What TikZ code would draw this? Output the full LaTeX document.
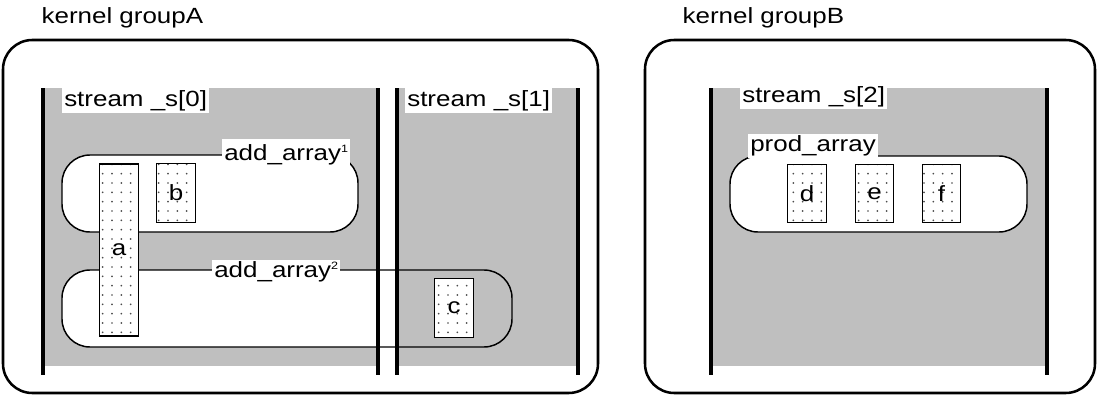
\documentclass[tikz,border=0pt]{standalone}
\usepackage{fontspec}
\setmainfont{Liberation Sans}[FakeStretch=1.18]
\usetikzlibrary{positioning, patterns.meta}

\newcommand{\sidx}[1]{\raisebox{0.75ex}{\fontsize{8}{8}\selectfont #1}}

\begin{document}
\begin{tikzpicture}[
		x=0.75pt, y=-0.75pt,
		every node/.style={font=\fontsize{16.5}{19}\selectfont, inner sep=1pt},
		group/.style={draw, line width=1.9pt, rounded corners=22pt},
		stream/.style={fill=gray!50},
		wall/.style={line width=2.3pt},
		kernel/.style={draw, line width=1.1pt, rounded corners=21pt},
		tag/.style={fill=white, inner sep=1.5pt},
		datum/.style={draw, line width=0.9pt, preaction={fill=white}, pattern={Dots[distance=7pt, radius=0.7pt]}, pattern color=black!70, minimum width=29pt, minimum height=44pt, inner sep=0pt}
	]
	\useasboundingbox (0,0) rectangle (1097,407);

	% Groups
	\draw[group] (3,40) rectangle (598,393);
	\draw[group] (645,40) rectangle (1095,393);
	\node[anchor=west] (groupA) at (40,18) {kernel groupA};
	\node[anchor=west] (groupB) at (681,18) {kernel groupB};

	% Streams
	\fill[stream] (43,88) rectangle (378,366);
	\fill[stream] (397,88) rectangle (578,366);
	\fill[stream] (711,88) rectangle (1047,366);
	\node[tag, anchor=north west] (s0) at (62,88) {stream \_s[0]};
	\node[tag, anchor=north west] (s1) at (405,88) {stream \_s[1]};
	\node[tag, anchor=north west] (s2) at (740,84) {stream \_s[2]};

	% Kernels
	\filldraw[kernel, fill=white] (62,155) rectangle (358,232);
	\begin{scope}
		\clip (0,0) rectangle (378,407);
		\fill[white, rounded corners=21pt] (62,270) rectangle (512,347);
	\end{scope}
	\draw[kernel] (62,270) rectangle (512,347);
	\filldraw[kernel, fill=white] (730,156) rectangle (1027,232);

	\draw[wall] (43,88) -- (43,375);
	\draw[wall] (378,88) -- (378,375);
	\draw[wall] (397,88) -- (397,375);
	\draw[wall] (578,88) -- (578,375);
	\draw[wall] (711,88) -- (711,375);
	\draw[wall] (1047,88) -- (1047,375);

	\node[tag, anchor=west, inner ysep=4pt] (add1) at (222,155) {add\_array\sidx{1}};
	\node[tag, anchor=west] (add2) at (212,272) {add\_array\sidx{2}};
	\node[tag, anchor=west] (prod) at (748,146) {prod\_array};

	% Arrays
	\node[datum, minimum height=129pt] (a) at (119,250) {a};
	\node[datum] (b) at (176,193) {b};
	\node[datum] (c) at (454,308) {c};
	\node[datum] (d) at (807,193.5) {d};
	\node[datum] (e) at (874.5,193.5) {e};
	\node[datum] (f) at (941.5,193.5) {f};

\end{tikzpicture}
\end{document}
